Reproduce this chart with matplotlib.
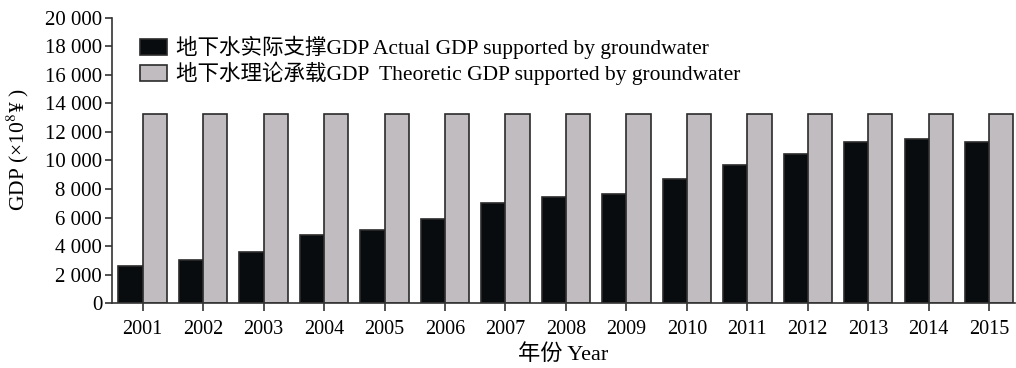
import numpy as np
import matplotlib
matplotlib.use("Agg")
import matplotlib.pyplot as plt
from matplotlib.ticker import FuncFormatter

plt.rcParams['font.family'] = ['Liberation Serif', 'Noto Sans CJK SC']
plt.rcParams['mathtext.fontset'] = 'stix'

# 地下水支撑GDP（亿元）
years = ["2001", "2002", "2003", "2004", "2005", "2006", "2007", "2008",
         "2009", "2010", "2011", "2012", "2013", "2014", "2015"]
actual_gdp = [2630, 3050, 3590, 4750, 5150, 5900, 6990, 7430,
              7620, 8710, 9650, 10440, 11260, 11470, 11300]
theoretic_gdp = [13220] * 15

label_actual = "地下水实际支撑GDP Actual GDP supported by groundwater"
label_theory = "地下水理论承载GDP  Theoretic GDP supported by groundwater"

fig = plt.figure(figsize=(10.16, 3.68), dpi=100)
ax = fig.add_axes([0.1102, 0.1758, 0.889, 0.7764])

x = np.arange(len(years))
w = 0.4
edge = "#2b2b2b"
ax.bar(x - w / 2, actual_gdp, w, color="#080c0e", edgecolor=edge, linewidth=1.2,
       label=label_actual)
ax.bar(x + w / 2, theoretic_gdp, w, color="#c1bcc0", edgecolor=edge, linewidth=1.2,
       label=label_theory)

ax.set_xlim(-0.508, 14.43)
ax.set_ylim(0, 20000)
ax.set_xticks(x)
ax.set_xticklabels(years)
ax.set_yticks(np.arange(0, 20001, 2000))
ax.yaxis.set_major_formatter(FuncFormatter(lambda v, p: f"{int(v):,}".replace(",", " ")))

for s in ["top", "right"]:
    ax.spines[s].set_visible(False)
for s in ["left", "bottom"]:
    ax.spines[s].set_linewidth(1.2)
    ax.spines[s].set_color("#333333")
ax.tick_params(axis="both", direction="out", length=5, width=1.2, color="#333333",
               labelsize=14.5)
ax.tick_params(axis="x", length=6, pad=6)
ax.tick_params(axis="y", pad=2, labelsize=15)

ax.set_xlabel("年份 Year", fontsize=16, labelpad=4)
ax.set_ylabel("GDP (×10$^8$¥ )", fontsize=15.5)
ax.yaxis.set_label_coords(-0.09, 0.537)

ax.legend(loc="upper left", bbox_to_anchor=(0.022, 0.965), frameon=False,
          fontsize=15.5, handlelength=1.25, handleheight=0.75, handletextpad=0.4,
          labelspacing=0.12, borderaxespad=0)

fig.savefig("out.png", dpi=100)
